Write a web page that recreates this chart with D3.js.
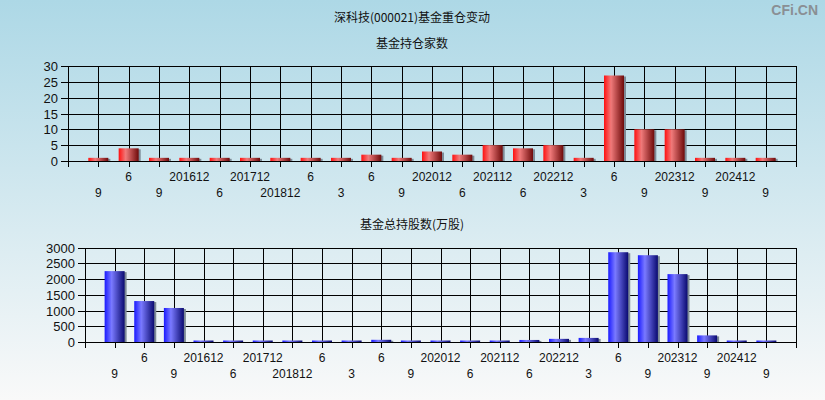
<!DOCTYPE html>
<html>
<head>
<meta charset="utf-8">
<script src="https://cdn.jsdelivr.net/npm/d3@7"></script>
<style>
  html, body { margin: 0; padding: 0; }
  svg { display: block; }
  text { font-family: "Liberation Sans", Arial, "Noto Sans CJK SC", sans-serif; }
  .cjk { font-family: "Noto Sans CJK SC", "Liberation Sans", sans-serif; }
</style>
</head>
<body>
<svg id="chart" width="825" height="400"></svg>
<script>
// Reporting periods (labels shown under the axis, alternating two rows)
const periods = ["9", "6", "9", "201612", "6", "201712", "201812", "6", "3", "6", "9", "202012",
                 "6", "202112", "6", "202212", "3", "6", "9", "202312", "9", "202412", "9"];
// Number of funds holding the stock
const fundCounts = [1, 4, 1, 1, 1, 1, 1, 1, 1, 2, 1, 3, 2, 5, 4, 5, 1, 27, 10, 10, 1, 1, 1];
// Total shares held by funds (10k shares)
const sharesHeld = [2250, 1300, 1080, 25, 25, 25, 25, 25, 25, 70, 25, 25, 30, 30, 65, 100, 130,
                    2850, 2755, 2155, 210, 25, 25];
const countTicks = [0, 5, 10, 15, 20, 25, 30];
const shareTicks = [0, 500, 1000, 1500, 2000, 2500, 3000];

const W = 825, H = 400;
const svg = d3.select("#chart");
const defs = svg.append("defs");

// Page background: light blue fading to near white
const bg = defs.append("linearGradient").attr("id", "bg").attr("x1", 0).attr("y1", 0).attr("x2", 0).attr("y2", 1);
bg.append("stop").attr("offset", "0%").attr("stop-color", "#add8e6");
bg.append("stop").attr("offset", "100%").attr("stop-color", "#f9f9f9");
svg.append("rect").attr("width", W).attr("height", H).attr("fill", "url(#bg)");

// Cylinder-style bar shading
function cylinder(id, edge, light, dark) {
  const g = defs.append("linearGradient").attr("id", id).attr("x1", 0).attr("y1", 0).attr("x2", 1).attr("y2", 0);
  g.append("stop").attr("offset", "0%").attr("stop-color", edge);
  g.append("stop").attr("offset", "35%").attr("stop-color", light);
  g.append("stop").attr("offset", "100%").attr("stop-color", dark);
}
cylinder("redBar", "#ff1010", "#f07a7a", "#6e0a0a");
cylinder("blueBar", "#1a1aff", "#7a7aff", "#0a0a70");

// Titles
svg.append("text").attr("class", "cjk").attr("x", 412).attr("y", 22).attr("text-anchor", "middle")
  .attr("font-size", 12).attr("fill", "#111").text("深科技(000021)基金重仓变动");
svg.append("text").attr("x", 818).attr("y", 15).attr("text-anchor", "end")
  .attr("font-size", 14).attr("font-weight", "bold").attr("fill", "#8a8f94").text("CFi.CN");

function panel(cfg) {
  const n = periods.length;
  const x = d3.scaleLinear().domain([0, n + 1]).range([cfg.left, cfg.right]);
  const y = d3.scaleLinear().domain([0, cfg.max]).range([cfg.bottom, cfg.top]);
  const g = svg.append("g");

  g.append("text").attr("class", "cjk").attr("x", 412).attr("y", cfg.titleY).attr("text-anchor", "middle")
    .attr("font-size", 12).attr("fill", "#111").text(cfg.title);

  // Horizontal grid lines (with tick stubs on the left)
  g.selectAll(".hg").data(cfg.ticks).join("line")
    .attr("x1", cfg.left - 7).attr("x2", cfg.right)
    .attr("y1", d => Math.round(y(d)) + 0.5).attr("y2", d => Math.round(y(d)) + 0.5)
    .attr("stroke", "#000").attr("stroke-width", 1);

  // Vertical grid lines at every period boundary, extending below as ticks
  const vIdx = d3.range(0, n + 2);
  g.selectAll(".vg").data(vIdx).join("line")
    .attr("x1", d => Math.round(x(d)) + 0.5).attr("x2", d => Math.round(x(d)) + 0.5)
    .attr("y1", Math.round(y(cfg.max))).attr("y2", Math.round(y(0)) + 6)
    .attr("stroke", "#000").attr("stroke-width", 1);

  // Y tick labels
  g.selectAll(".yl").data(cfg.ticks).join("text")
    .attr("x", cfg.left - 10).attr("y", d => y(d) + 5)
    .attr("text-anchor", "end").attr("font-size", 13).attr("fill", "#111")
    .text(d => d);

  // Bars with a small gray shadow on the right
  const bw = 20;
  const bars = g.selectAll(".bar").data(cfg.values).join("g");
  bars.append("rect")
    .attr("x", (d, i) => x(i + 1) - bw / 2 + 2).attr("width", bw)
    .attr("y", d => y(d) + 1).attr("height", d => Math.max(0, y(0) - y(d) - 1))
    .attr("fill", "#7d8a96");
  bars.append("rect")
    .attr("x", (d, i) => x(i + 1) - bw / 2).attr("width", bw)
    .attr("y", d => Math.min(y(d), y(0) - 1.5)).attr("height", d => Math.max(1.5, y(0) - y(d)))
    .attr("fill", cfg.fill);

  // Redraw the baseline over bars
  g.append("line").attr("x1", cfg.left - 7).attr("x2", cfg.right)
    .attr("y1", Math.round(y(0)) + 0.5).attr("y2", Math.round(y(0)) + 0.5).attr("stroke", "#000");

  // Period labels in two alternating rows
  g.selectAll(".xl").data(periods).join("text")
    .attr("x", (d, i) => x(i + 1)).attr("y", (d, i) => i % 2 === 0 ? cfg.row2 : cfg.row1)
    .attr("text-anchor", "middle").attr("font-size", 12).attr("fill", "#111")
    .text(d => d);
}

panel({ title: "基金持仓家数", titleY: 48, values: fundCounts, ticks: countTicks, max: 30,
        left: 68, right: 796, top: 66, bottom: 161, row1: 181, row2: 197, fill: "url(#redBar)" });
panel({ title: "基金总持股数(万股)", titleY: 229, values: sharesHeld, ticks: shareTicks, max: 3000,
        left: 85, right: 796, top: 247.5, bottom: 342, row1: 362, row2: 378, fill: "url(#blueBar)" });
</script>
</body>
</html>
